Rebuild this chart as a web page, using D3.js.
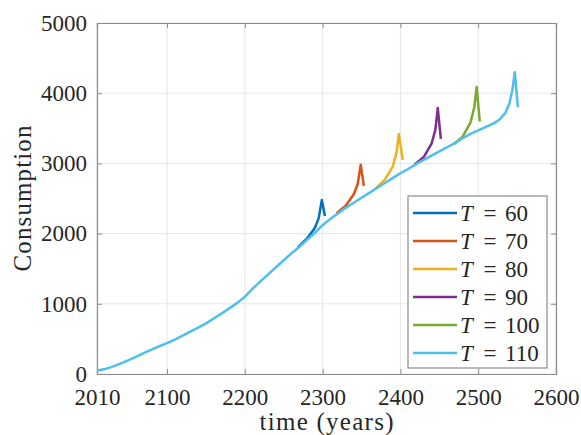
<!DOCTYPE html>
<html>
<head>
<meta charset="utf-8">
<script src="https://cdn.jsdelivr.net/npm/d3@7"></script>
<style>
  body { margin: 0; background: #fff; }
  text { font-family: "Liberation Serif", "DejaVu Serif", serif; fill: #262626; }
</style>
</head>
<body>
<svg id="canvas"></svg>
<script>
// values
const xTicks = [2010, 2100, 2200, 2300, 2400, 2500, 2600]
const yTicks = [0, 1000, 2000, 3000, 4000, 5000]
const seriesNames = ["60", "70", "80", "90", "100", "110"]
const seriesColors = ["#0072BD", "#D95319", "#EDB120", "#7E2F8E", "#77AC30", "#4DBEEE"]

const years60 = [2268, 2280, 2290, 2295, 2299, 2303]
const cons60 = [1800, 1930, 2080, 2220, 2480, 2250]
const years70 = [2318, 2330, 2340, 2345, 2349, 2353]
const cons70 = [2290, 2400, 2560, 2700, 2980, 2680]
const years80 = [2368, 2380, 2390, 2395, 2398, 2403]
const cons80 = [2640, 2770, 2950, 3150, 3420, 3050]
const years90 = [2418, 2430, 2440, 2445, 2448, 2452]
const cons90 = [2980, 3090, 3280, 3480, 3790, 3350]
const years100 = [2468, 2480, 2490, 2495, 2498, 2502]
const cons100 = [3270, 3380, 3580, 3800, 4090, 3600]
const years110 = [2010, 2020, 2030, 2040, 2050, 2060, 2070, 2080, 2090, 2100,
    2110, 2120, 2130, 2140, 2150, 2160, 2170, 2180, 2190, 2200,
    2210, 2220, 2230, 2240, 2250, 2260, 2270, 2280, 2290, 2300,
    2310, 2320, 2330, 2340, 2350, 2360, 2370, 2380, 2390, 2400,
    2410, 2420, 2430, 2440, 2450, 2460, 2470, 2480, 2490, 2500,
    2510, 2520, 2528, 2535, 2540, 2544, 2547, 2551]
const cons110 = [45, 70, 105, 148, 195, 245, 297, 348, 395, 440,
    490, 545, 603, 660, 722, 790, 860, 935, 1010, 1100,
    1215, 1320, 1420, 1520, 1620, 1720, 1810, 1910, 2010, 2120,
    2210, 2290, 2370, 2440, 2510, 2580, 2650, 2720, 2790, 2860,
    2920, 2990, 3050, 3110, 3170, 3230, 3290, 3360, 3420, 3470,
    3520, 3570, 3630, 3720, 3850, 4050, 4300, 3800]

const allYears = [years60, years70, years80, years90, years100, years110]
const allCons = [cons60, cons70, cons80, cons90, cons100, cons110]

const width = 581, height = 435
const margin = {left: 97, top: 23, right: 25, bottom: 61}

const svg = d3.select("#canvas").attr("width", width).attr("height", height)

const x = d3.scaleLinear().domain([2010, 2600]).range([margin.left, width - margin.right])
const y = d3.scaleLinear().domain([0, 5000]).range([height - margin.bottom, margin.top])

const frameColor = "#8c8c8c"
const tickFs = 23, labelFs = 25

// grid
const grid = svg.append("g")
grid.selectAll(".gx").data(xTicks).enter().append("line")
    .attr("x1", d => x(d)).attr("x2", d => x(d))
    .attr("y1", y(0)).attr("y2", y(5000))
    .attr("stroke", "#e6e6e6").attr("stroke-width", 1)
grid.selectAll(".gy").data(yTicks).enter().append("line")
    .attr("x1", x(2010)).attr("x2", x(2600))
    .attr("y1", d => y(d)).attr("y2", d => y(d))
    .attr("stroke", "#e6e6e6").attr("stroke-width", 1)

// axes (ticks inward, MATLAB style)
const xAxis = svg.append("g").attr("transform", `translate(0,${y(0)})`)
    .call(d3.axisBottom(x).tickValues(xTicks).tickFormat(d3.format("d")).tickSize(-5).tickPadding(15))
const xAxisTop = svg.append("g").attr("transform", `translate(0,${y(5000)})`)
    .call(d3.axisTop(x).tickValues(xTicks).tickSize(-5).tickFormat(""))
const yAxis = svg.append("g").attr("transform", `translate(${x(2010)},0)`)
    .call(d3.axisLeft(y).tickValues(yTicks).tickFormat(d3.format("d")).tickSize(-5).tickPadding(10))
const yAxisRight = svg.append("g").attr("transform", `translate(${x(2600)},0)`)
    .call(d3.axisRight(y).tickValues(yTicks).tickSize(-5).tickFormat(""))

for (const ax of [xAxis, xAxisTop, yAxis, yAxisRight]) {
    ax.select(".domain").attr("stroke", frameColor).attr("stroke-width", 1.2)
    ax.selectAll(".tick line").attr("stroke", frameColor)
    ax.selectAll("text")
        .style("font-family", "Liberation Serif")
        .style("font-size", tickFs + "px")
        .attr("fill", "#262626")
}

// lines
const line = d3.line().x(d => x(d[0])).y(d => y(d[1]))
const lines = svg.append("g")
allYears.forEach((yrs, i) => {
    const pts = yrs.map((yr, j) => [yr, allCons[i][j]])
    lines.append("path")
        .attr("d", line(pts))
        .attr("fill", "none")
        .attr("stroke", seriesColors[i])
        .attr("stroke-width", 2.5)
        .attr("stroke-linejoin", "round")
})

// labels
svg.append("text")
    .attr("x", (x(2010) + x(2600)) / 2).attr("y", 430)
    .attr("text-anchor", "middle").attr("font-size", labelFs)
    .attr("textLength", 134).attr("lengthAdjust", "spacing")
    .text("time (years)")
svg.append("text")
    .attr("transform", `translate(31,${(y(0) + y(5000)) / 2}) rotate(-90)`)
    .attr("text-anchor", "middle").attr("font-size", labelFs)
    .attr("textLength", 146).attr("lengthAdjust", "spacing")
    .text("Consumption")

// legend
const lg = svg.append("g").attr("transform", "translate(408,196)")
lg.append("rect").attr("width", 139).attr("height", 172)
    .attr("fill", "#fff").attr("stroke", frameColor).attr("stroke-width", 1.2)
seriesNames.forEach((name, i) => {
    const ry = 17 + i * 28
    lg.append("line").attr("x1", 5).attr("x2", 49).attr("y1", ry).attr("y2", ry)
        .attr("stroke", seriesColors[i]).attr("stroke-width", 2.5)
    lg.append("text").attr("x", 52).attr("y", ry + 8).attr("font-size", tickFs)
        .attr("font-style", "italic").text("T")
    lg.append("text").attr("x", 82).attr("y", ry + 8).attr("font-size", tickFs)
        .attr("text-anchor", "middle").text("=")
    lg.append("text").attr("x", 97).attr("y", ry + 8).attr("font-size", tickFs)
        .text(name)
})
</script>
</body>
</html>
